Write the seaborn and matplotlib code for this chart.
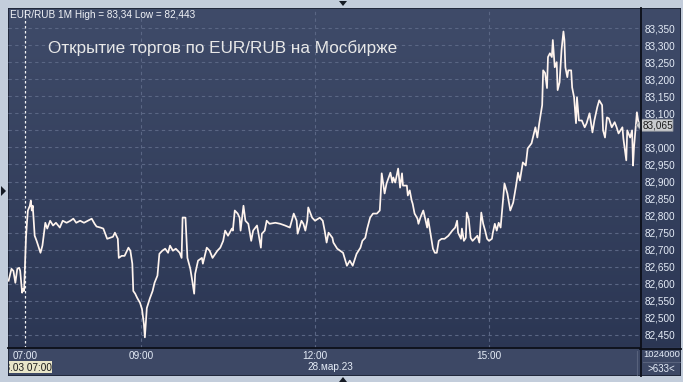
import numpy as np
import pandas as pd
import matplotlib
matplotlib.use("Agg")
import matplotlib.pyplot as plt
import seaborn as sns
from matplotlib.patches import Rectangle, Polygon
from matplotlib.colors import LinearSegmentedColormap

# ---------------- data ----------------
times = [
    "06:43", "06:46", "06:48", "06:50", "06:52", "06:54", "06:55", "06:57", "06:58", "06:59",
    "07:01", "07:02", "07:03", "07:05", "07:06", "07:07", "07:08", "07:10", "07:12", "07:16",
    "07:18", "07:21", "07:23", "07:26", "07:29", "07:32", "07:36", "07:39", "07:43", "07:47",
    "07:50", "07:53", "07:57", "08:01", "08:05", "08:09", "08:12", "08:14", "08:18", "08:21",
    "08:25", "08:28", "08:31", "08:33", "08:36", "08:37", "08:40", "08:43", "08:47", "08:49",
    "08:51", "08:52", "08:54", "08:56", "08:59", "09:01", "09:03", "09:04", "09:06", "09:09",
    "09:12", "09:14", "09:17", "09:19", "09:22", "09:25", "09:28", "09:30", "09:33", "09:36",
    "09:40", "09:42", "09:43", "09:46", "09:48", "09:51", "09:53", "09:55", "09:56", "09:59",
    "10:03", "10:04", "10:08", "10:11", "10:14", "10:19", "10:22", "10:25", "10:27", "10:30",
    "10:34", "10:35", "10:37", "10:40", "10:42", "10:43", "10:46", "10:48", "10:51", "10:54",
    "10:56", "11:00", "11:01", "11:04", "11:05", "11:08", "11:10", "11:13", "11:19", "11:24",
    "11:29", "11:34", "11:36", "11:38", "11:41", "11:42", "11:46", "11:48", "11:50", "11:52",
    "11:53", "11:57", "12:00", "12:05", "12:08", "12:10", "12:12", "12:14", "12:18", "12:19",
    "12:23", "12:26", "12:29", "12:33", "12:36", "12:39", "12:43", "12:47", "12:49", "12:52",
    "12:54", "12:57", "13:00", "13:04", "13:07", "13:08", "13:09", "13:12", "13:14", "13:18",
    "13:20", "13:21", "13:23", "13:26", "13:28", "13:30", "13:31", "13:35", "13:36", "13:38",
    "13:40", "13:41", "13:43", "13:46", "13:47", "13:49", "13:52", "13:54", "13:56", "13:57",
    "13:59", "14:01", "14:02", "14:04", "14:06", "14:08", "14:11", "14:14", "14:18", "14:22",
    "14:25", "14:27", "14:28", "14:31", "14:32", "14:34", "14:36", "14:37", "14:39", "14:41",
    "14:43", "14:48", "14:50", "14:52", "14:54", "14:56", "14:58", "15:00", "15:03", "15:04",
    "15:06", "15:08", "15:10", "15:12", "15:14", "15:16", "15:19", "15:22", "15:25", "15:28",
    "15:30", "15:32", "15:35", "15:38", "15:40", "15:44", "15:48", "15:50", "15:52", "15:55",
    "15:56", "15:58", "16:00", "16:01", "16:03", "16:05", "16:06", "16:08", "16:10", "16:11",
    "16:13", "16:15", "16:17", "16:18", "16:19", "16:21", "16:22", "16:25", "16:26", "16:28",
    "16:30", "16:31", "16:33", "16:36", "16:39", "16:41", "16:44", "16:47", "16:49", "16:52",
    "16:54", "16:57", "16:58", "17:00", "17:02", "17:04", "17:07", "17:10", "17:12", "17:14",
    "17:18", "17:19", "17:22", "17:23", "17:26", "17:28", "17:29", "17:30", "17:32", "17:33",
    "17:35",
]
prices = [
    82.609, 82.644, 82.638, 82.603, 82.644, 82.647, 82.638, 82.574, 82.585, 82.579,
    82.735, 82.779, 82.815, 82.829, 82.844, 82.815, 82.829, 82.741, 82.726, 82.691,
    82.712, 82.779, 82.762, 82.785, 82.771, 82.779, 82.765, 82.785, 82.779, 82.785,
    82.791, 82.779, 82.785, 82.779, 82.785, 82.791, 82.776, 82.768, 82.765, 82.762,
    82.732, 82.735, 82.738, 82.750, 82.732, 82.676, 82.682, 82.682, 82.706, 82.697,
    82.659, 82.579, 82.571, 82.559, 82.544, 82.526, 82.482, 82.443, 82.529, 82.556,
    82.579, 82.603, 82.624, 82.688, 82.697, 82.703, 82.691, 82.712, 82.697, 82.703,
    82.691, 82.676, 82.794, 82.794, 82.676, 82.644, 82.609, 82.571, 82.629, 82.668,
    82.676, 82.659, 82.706, 82.697, 82.676, 82.697, 82.706, 82.726, 82.756, 82.741,
    82.762, 82.756, 82.815, 82.806, 82.794, 82.756, 82.829, 82.785, 82.776, 82.726,
    82.756, 82.771, 82.756, 82.706, 82.747, 82.756, 82.785, 82.776, 82.779, 82.776,
    82.771, 82.765, 82.785, 82.806, 82.785, 82.747, 82.785, 82.776, 82.756, 82.785,
    82.824, 82.794, 82.785, 82.794, 82.785, 82.756, 82.721, 82.750, 82.735, 82.721,
    82.703, 82.697, 82.691, 82.653, 82.668, 82.653, 82.688, 82.706, 82.726, 82.735,
    82.762, 82.794, 82.806, 82.806, 82.815, 82.865, 82.924, 82.865, 82.894, 82.926,
    82.897, 82.912, 82.897, 82.938, 82.882, 82.924, 82.888, 82.888, 82.859, 82.874,
    82.844, 82.835, 82.806, 82.791, 82.776, 82.794, 82.815, 82.791, 82.765, 82.791,
    82.756, 82.721, 82.703, 82.691, 82.691, 82.726, 82.732, 82.732, 82.741, 82.756,
    82.765, 82.785, 82.750, 82.732, 82.762, 82.726, 82.735, 82.809, 82.791, 82.735,
    82.726, 82.741, 82.721, 82.809, 82.776, 82.756, 82.732, 82.726, 82.732, 82.750,
    82.776, 82.756, 82.779, 82.765, 82.829, 82.894, 82.865, 82.815, 82.838, 82.888,
    82.926, 82.903, 82.956, 82.947, 82.997, 83.012, 83.059, 83.029, 83.071, 83.124,
    83.226, 83.218, 83.174, 83.265, 83.276, 83.265, 83.315, 83.235, 83.250, 83.168,
    83.191, 83.285, 83.340, 83.315, 83.235, 83.206, 83.226, 83.226, 83.176, 83.147,
    83.071, 83.147, 83.079, 83.079, 83.059, 83.071, 83.100, 83.044, 83.079, 83.118,
    83.138, 83.124, 83.050, 83.029, 83.088, 83.085, 83.059, 83.074, 83.059, 83.041,
    83.059, 83.026, 82.962, 83.050, 83.029, 83.050, 82.947, 83.000, 83.071, 83.103,
    83.065,
]
y_tick_values = [82.45, 82.50, 82.55, 82.60, 82.65, 82.70, 82.75, 82.80, 82.85, 82.90,
                 82.95, 83.00, 83.05, 83.10, 83.15, 83.20, 83.25, 83.30, 83.35]
x_tick_times = ["07:00", "09:00", "12:00", "15:00"]
session_start = "07:00"
last_price = 83.065
header_text = "EUR/RUB 1M High = 83,34 Low = 82,443"
title_text = "Открытие торгов по EUR/RUB на Мосбирже"
date_text = "28.мар.23"
cursor_text = "28.03 07:00"
volume_text = "1024000"
count_text = ">633<"


def to_min(s):
    h, m = s.split(":")
    return int(h) * 60 + int(m)


df = pd.DataFrame({"t": [to_min(s) for s in times], "price": prices})

# ---------------- figure ----------------
W, H = 683, 382
fig = plt.figure(figsize=(W / 100, H / 100), dpi=100)
fig.patch.set_facecolor("#c3cddb")
plt.rcParams["font.family"] = ["Liberation Sans", "DejaVu Sans"]


def fbox(x0, y0, x1, y1):
    return [x0 / W, 1 - y1 / H, (x1 - x0) / W, (y1 - y0) / H]


# panel background (gradient) covering plot + right strip
bg = fig.add_axes(fbox(8, 8, 681, 376))
bg.set_axis_off()
grad = np.linspace(0, 1, 256).reshape(-1, 1)
cmap = LinearSegmentedColormap.from_list("bgc", ["#3f4b69", "#2a3552"])
bg.imshow(grad, aspect="auto", cmap=cmap, extent=[0, 1, 0, 1], origin="upper")
bg.set_xlim(0, 1)
bg.set_ylim(0, 1)
strip_h = (376 - 348) / (376 - 8)
bg.add_patch(Rectangle((0, 0), 1, strip_h, color="#3d4865", zorder=2))
bg.add_patch(Rectangle((0, 0), 1, 1, fill=False, ec="#1c2233", lw=1.2, zorder=5))

ax = fig.add_axes(fbox(8, 8, 640, 348))
ax.set_facecolor("none")

sns.lineplot(data=df, x="t", y="price", ax=ax, color="#fff4ee", linewidth=1.25,
             estimator=None, sort=False, zorder=5)

ax.set_xlim(to_min("06:42") + 0.4, to_min("17:36") + 0.2)
ax.set_ylim(82.4118, 83.4088)

# grid
for yv in y_tick_values:
    ax.axhline(yv, color="#5a6684", lw=0.8, ls=(0, (3, 3)), zorder=1)
for tt in x_tick_times[1:]:
    ax.axvline(to_min(tt), color="#5a6684", lw=0.8, ls=(0, (3, 3)), zorder=1)
ax.axvline(to_min(session_start), color="#f4f4f4", lw=0.9, ls=(0, (2, 2)), zorder=2)

# ticks (the label under the last-price marker is hidden, as in the original)
ax.yaxis.tick_right()
ax.set_yticks(y_tick_values)
ylabels = []
for v in y_tick_values:
    lab = f"{v:.3f}".replace(".", ",")
    if abs(v - last_price) < 0.03:
        lab = ""
    ylabels.append(lab)
ax.set_yticklabels(ylabels)
ax.set_xticks([to_min(t) for t in x_tick_times])
ax.set_xticklabels(x_tick_times)
ax.tick_params(axis="y", length=0, pad=3, labelsize=7.2, colors="#e6edf8")
ax.tick_params(axis="x", length=0, pad=2.5, labelsize=7.2, colors="#e6edf8")
ax.set_xlabel("")
ax.set_ylabel("")
for s in ["top", "left"]:
    ax.spines[s].set_visible(False)
ax.spines["bottom"].set_color("#0c0f18")
ax.spines["bottom"].set_linewidth(1.3)
ax.spines["right"].set_visible(False)

# right vertical separator and bottom line across right strip
fig.add_artist(plt.Line2D([640.5 / W, 640.5 / W], [1 - 8 / H, 1 - 376 / H],
                          color="#0c0f18", lw=1.3))
fig.add_artist(plt.Line2D([640 / W, 681 / W], [1 - 348.5 / H, 1 - 348.5 / H],
                          color="#0c0f18", lw=1.3))
fig.add_artist(plt.Line2D([643 / W, 680 / W], [1 - 361.5 / H, 1 - 361.5 / H],
                          color="#58627c", lw=0.8))
fig.add_artist(plt.Line2D([636.5 / W, 636.5 / W], [1 - 351 / H, 1 - 375 / H],
                          color="#58627c", lw=0.8))

# header and title
fig.text(10 / W, 1 - 14.5 / H, header_text, fontsize=7.2, color="#f2f4f8",
         va="center", ha="left")
fig.text(48 / W, 1 - 48 / H, title_text, fontsize=12.3, color="#e8e8e8",
         va="center", ha="left")

# last price marker
yp = ax.transData.transform((0, last_price))[1]
ypx = H - yp
poly = Polygon([[636 / W, 1 - ypx / H], [642 / W, 1 - (ypx - 6) / H],
                [673 / W, 1 - (ypx - 6) / H], [673 / W, 1 - (ypx + 6) / H],
                [642 / W, 1 - (ypx + 6) / H]], closed=True,
               fc="#c9cbce", ec="#8a8f99", lw=0.6, transform=fig.transFigure)
fig.add_artist(poly)
fig.text(643 / W, 1 - ypx / H, f"{last_price:.3f}".replace(".", ","), fontsize=7.2,
         color="#1a1a1a", va="center", ha="left")

# date label
fig.text(330 / W, 1 - 367 / H, date_text, fontsize=7.2, color="#e6edf8",
         va="center", ha="center")

# cursor box (clipped)
cax = fig.add_axes(fbox(9, 361, 52, 373))
cax.set_facecolor("#e9e6c9")
cax.set_xticks([])
cax.set_yticks([])
for s in cax.spines.values():
    s.set_visible(False)
cax.text(1.0, 0.45, cursor_text, transform=cax.transAxes, fontsize=7.2, color="#1a1a1a",
         ha="right", va="center", clip_on=True)

# right bottom labels
fig.text(661.5 / W, 1 - 354.5 / H, volume_text, fontsize=6.8, color="#e6edf8",
         ha="center", va="center")
fig.text(661 / W, 1 - 369 / H, count_text, fontsize=7.0, color="#e6edf8",
         ha="center", va="center")

# small navigation triangles
tri_c = "#151a24"
fig.add_artist(Polygon([[339 / W, 1 - 1 / H], [347 / W, 1 - 1 / H], [343 / W, 1 - 6 / H]],
                       closed=True, fc=tri_c, ec="none", transform=fig.transFigure))
fig.add_artist(Polygon([[339 / W, 1 - 382 / H], [347 / W, 1 - 382 / H], [343 / W, 1 - 377 / H]],
                       closed=True, fc=tri_c, ec="none", transform=fig.transFigure))
fig.add_artist(Polygon([[1 / W, 1 - 186 / H], [1 / W, 1 - 196 / H], [6 / W, 1 - 191 / H]],
                       closed=True, fc=tri_c, ec="none", transform=fig.transFigure))

fig.savefig("out.png", dpi=100, facecolor=fig.get_facecolor())
